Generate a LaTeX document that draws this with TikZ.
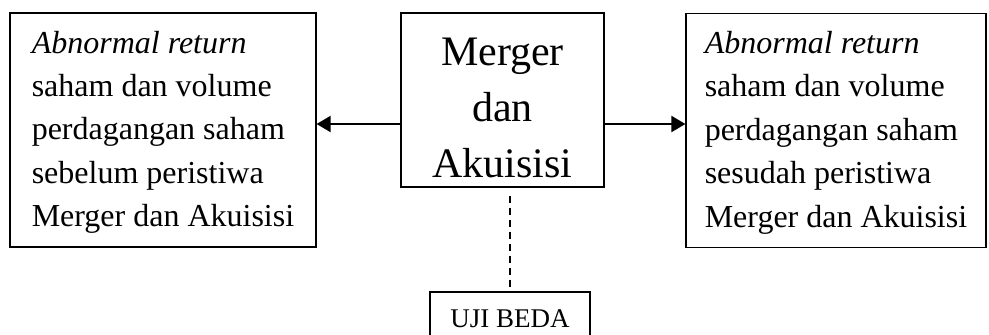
\documentclass[tikz,border=0pt]{standalone}
\usepackage{fontspec}
\setmainfont{Liberation Serif}
\usetikzlibrary{arrows.meta}

\begin{document}
\begin{tikzpicture}[x=0.5pt, y=-0.5pt,
    sidebox/.style={draw, line width=0.6pt, inner sep=0pt, align=left,
        minimum height=117pt, text height=96.6pt, text depth=0pt,
        font=\fontsize{16pt}{21.7pt}\selectfont},
    mainbox/.style={draw, line width=0.6pt, inner sep=0pt, align=center,
        minimum width=101.5pt, minimum height=87pt, text height=77pt, text depth=0pt,
        font=\fontsize{21pt}{28pt}\selectfont},
    testbox/.style={draw, line width=0.6pt, inner sep=0pt,
        minimum width=80pt, minimum height=27pt,
        font=\fontsize{13.5pt}{16pt}\selectfont},
    link/.style={line width=1pt, -{Triangle[length=7pt, width=8pt]}},
    testlink/.style={line width=0.7pt, dash pattern=on 3.5pt off 2.5pt}]

    \useasboundingbox (0,0) rectangle (989,334);

    \node[sidebox, minimum width=153pt] (before) at (163,130)
        {\textit{Abnormal return}\\ saham dan volume\\ perdagangan saham\\ sebelum peristiwa\\ Merger dan Akuisisi};
    \node[mainbox] (merger) at (502.5,100) {Merger\\ dan\\ Akuisisi};
    \node[sidebox, minimum width=150pt] (after) at (836,130.5)
        {\textit{Abnormal return}\\ saham dan volume\\ perdagangan saham\\ sesudah peristiwa\\ Merger dan Akuisisi};
    \node[testbox] (uji) at (510,319) {UJI BEDA};

    \draw[link] ([yshift=-12pt]merger.west) -- ([yshift=-12pt]merger.west -| before.east);
    \draw[link] ([yshift=-12pt]merger.east) -- ([yshift=-12pt]merger.east -| after.west);
    \draw[testlink, shorten <=4pt] (uji.north |- merger.south) -- (uji.north);

\end{tikzpicture}
\end{document}
